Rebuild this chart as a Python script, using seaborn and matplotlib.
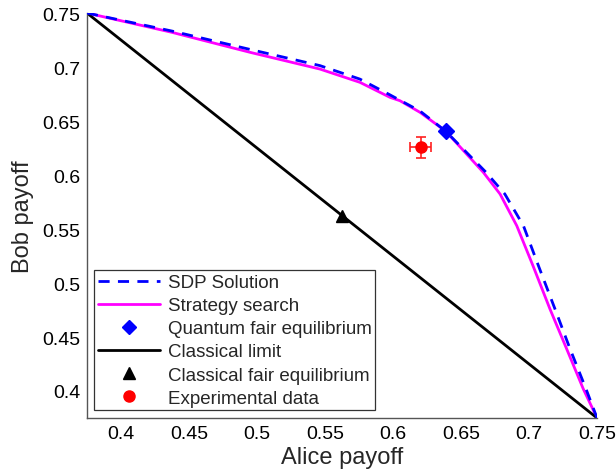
import matplotlib
matplotlib.use("Agg")
import matplotlib.pyplot as plt
import seaborn as sns
import pandas as pd
from matplotlib.ticker import FixedLocator, FuncFormatter
from matplotlib.lines import Line2D

# ---- data ----
search_x = [0.375, 0.4375, 0.4949, 0.5463, 0.5757, 0.5978, 0.6051, 0.6199, 0.6388,
            0.6664, 0.6787, 0.691, 0.7031, 0.7154, 0.7277, 0.7399, 0.75]
search_y = [0.75, 0.7321, 0.7136, 0.6981, 0.6858, 0.6719, 0.6688, 0.658, 0.6405,
            0.6025, 0.5824, 0.553, 0.5154, 0.4759, 0.4389, 0.4019, 0.375]
sdp_x = [0.375, 0.4375, 0.4949, 0.5463, 0.5757, 0.5978, 0.6199, 0.6388,
         0.6684, 0.6822, 0.6959, 0.7071, 0.7191, 0.7302, 0.7419, 0.75]
sdp_y = [0.75, 0.7333, 0.7163, 0.7013, 0.6888, 0.6742, 0.6592, 0.6405,
         0.6025, 0.5824, 0.553, 0.5154, 0.4759, 0.4389, 0.4019, 0.375]
classical_x = [0.375, 0.75]
classical_y = [0.75, 0.375]
quantum_eq = (0.6388, 0.6405)
classical_eq = (0.5625, 0.5625)
exp_x, exp_y = 0.6203, 0.6256
exp_xerr, exp_yerr = 0.008, 0.0099

xticks = [0.4, 0.45, 0.5, 0.55, 0.6, 0.65, 0.7, 0.75]
yticks = [0.4, 0.45, 0.5, 0.55, 0.6, 0.65, 0.7, 0.75]
legend_labels = ["SDP Solution", "Strategy search", "Quantum fair equilibrium",
                 "Classical limit", "Classical fair equilibrium", "Experimental data"]

sns.set_style("white")
plt.rcParams['font.family'] = ['Liberation Sans', 'DejaVu Sans']

fig = plt.figure(figsize=(6.16, 4.77), dpi=100)
ax = fig.add_axes([0.1412, 0.1216, 0.828, 0.849])

sdp_df = pd.DataFrame({"x": sdp_x, "y": sdp_y})
search_df = pd.DataFrame({"x": search_x, "y": search_y})
cl_df = pd.DataFrame({"x": classical_x, "y": classical_y})

sns.lineplot(data=sdp_df, x="x", y="y", sort=False, ax=ax, color="#0000ff",
             lw=2.0, linestyle=(0, (4, 3)), zorder=3)
sns.lineplot(data=search_df, x="x", y="y", sort=False, ax=ax, color="#ff00ff",
             lw=2.0, zorder=2)
ax.plot([quantum_eq[0]], [quantum_eq[1]], marker="D", color="#0000ff", ms=8,
        ls="none", zorder=5)
sns.lineplot(data=cl_df, x="x", y="y", sort=False, ax=ax, color="black",
             lw=2.0, zorder=2)
ax.plot([classical_eq[0]], [classical_eq[1]], marker="^", color="black", ms=9,
        ls="none", zorder=5)
ax.errorbar([exp_x], [exp_y], xerr=[exp_xerr], yerr=[exp_yerr], fmt="o",
            color="#ff0000", ecolor="#ff2020", ms=8, capsize=3.5, elinewidth=1.2,
            capthick=1.2, zorder=6)

ax.set_xlim(0.375, 0.75)
ax.set_ylim(0.375, 0.75)
fmt = FuncFormatter(lambda v, p: f"{v:g}")
ax.xaxis.set_major_locator(FixedLocator(xticks))
ax.yaxis.set_major_locator(FixedLocator(yticks))
ax.xaxis.set_major_formatter(fmt)
ax.yaxis.set_major_formatter(fmt)
ax.tick_params(direction="in", length=4, width=0.8, colors="#555555",
               labelcolor="black", labelsize=14, pad=5)
for s in ["top", "right"]:
    ax.spines[s].set_visible(False)
for s in ["left", "bottom"]:
    ax.spines[s].set_color("#555555")
    ax.spines[s].set_linewidth(1.0)
ax.set_xlabel("Alice payoff", fontsize=17, labelpad=3)
ax.set_ylabel("Bob payoff", fontsize=17, labelpad=6)

handles = [
    Line2D([], [], color="#0000ff", lw=2.0, linestyle=(0, (4, 3))),
    Line2D([], [], color="#ff00ff", lw=2.0),
    Line2D([], [], color="#0000ff", marker="D", ms=7, ls="none"),
    Line2D([], [], color="black", lw=2.0),
    Line2D([], [], color="black", marker="^", ms=8, ls="none"),
    Line2D([], [], color="#ff0000", marker="o", ms=8, ls="none"),
]
leg = ax.legend(handles, legend_labels, loc="lower left",
                fontsize=13.5, frameon=True, fancybox=False, framealpha=1,
                edgecolor="#333333", handlelength=3.3, handletextpad=0.4,
                labelspacing=0.32, borderpad=0.2, borderaxespad=0.4)
leg.get_frame().set_linewidth(0.9)

fig.savefig("out.png", dpi=100)
